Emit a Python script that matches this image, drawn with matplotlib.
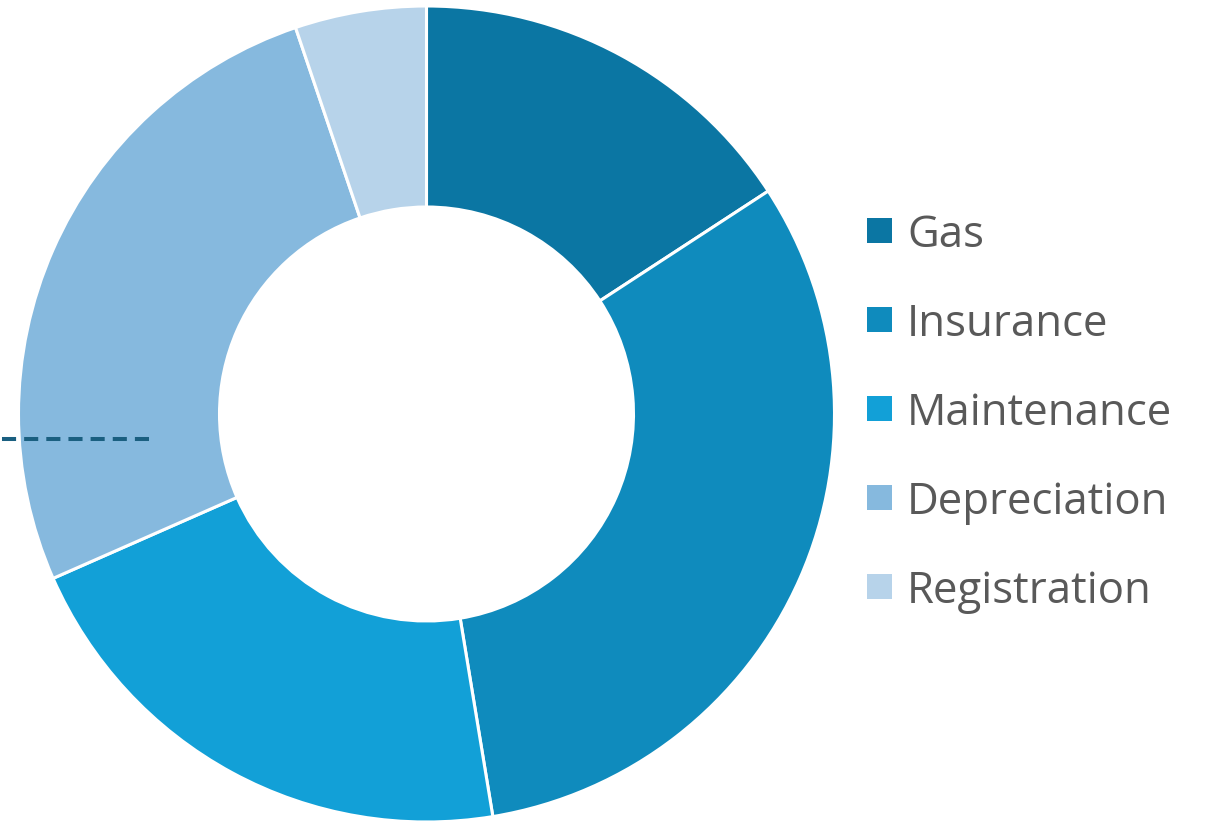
import matplotlib.pyplot as plt
from matplotlib.patches import Rectangle

categories = ["Gas", "Insurance", "Maintenance", "Depreciation", "Registration"]
values = [15.8, 31.6, 21.0, 26.4, 5.2]
colors = ["#0b76a3", "#0f8bbd", "#12a0d7", "#86b9de", "#b7d3ea"]

W, H = 1210, 821
fig = plt.figure(figsize=(W / 100, H / 100), dpi=100)
ax = fig.add_axes([0, 0, 1, 1])

cx, cy = 426.5, H - 414
r_out, r_in = 408, 207

ax.pie(values, colors=colors, startangle=90, counterclock=False,
       center=(cx, cy), radius=r_out, frame=True,
       wedgeprops=dict(width=r_out - r_in, edgecolor="white", linewidth=2.2))
ax.set_xlim(0, W)
ax.set_ylim(0, H)
ax.set_aspect("equal")
ax.axis("off")

# dashed leader line on the left
ax.plot([149, 0], [H - 439, H - 439], color="#1a5f80", lw=2.9,
        dashes=(3.5, 2.0), solid_capstyle="butt", dash_capstyle="butt")

# legend
y0, step = 230, 89
for i, (name, c) in enumerate(zip(categories, colors)):
    y = H - (y0 + i * step)
    ax.add_patch(Rectangle((867, y - 12.5), 25, 25, facecolor=c, edgecolor="none"))
    ax.text(907, y, name, fontsize=31.5, color="#595959", family="Open Sans",
            va="center_baseline", ha="left")

fig.savefig("out.png", dpi=100)
